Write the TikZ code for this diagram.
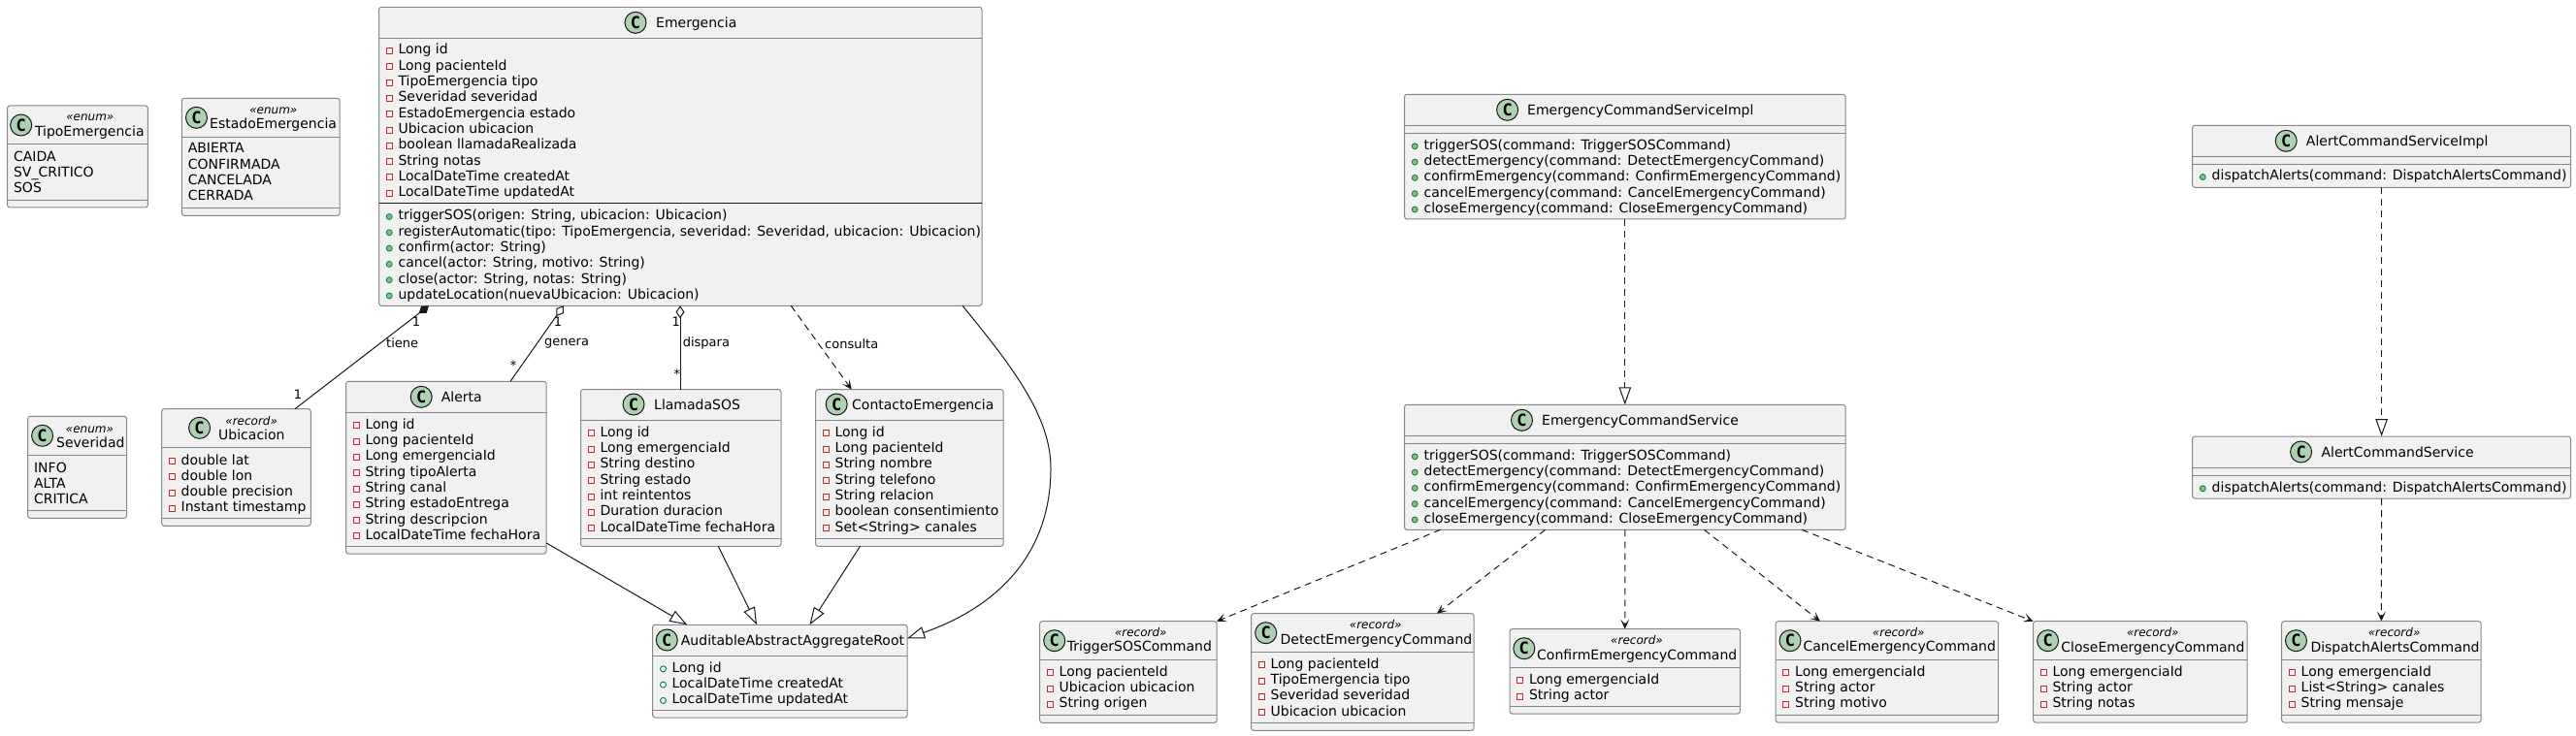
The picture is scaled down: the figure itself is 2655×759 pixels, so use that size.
\documentclass[tikz,border=0pt]{standalone}
\usepackage{fontspec}
\setmainfont{DejaVu Sans}
\newfontfamily\cfont{DejaVu Sans Mono}
\usetikzlibrary{arrows.meta}

\definecolor{boxfill}{HTML}{F1F1F1}
\definecolor{boxline}{HTML}{888888}
\definecolor{linec}{HTML}{181818}
\definecolor{cfill}{HTML}{ADD1B2}
\definecolor{privred}{HTML}{C82930}
\definecolor{pubgreen}{HTML}{038048}
\definecolor{pubfill}{HTML}{84BE84}

\tikzset{
 classbox/.style={draw=boxline, fill=boxfill, line width=1pt, rounded corners=2.5pt, inner sep=0pt, outer sep=0pt, anchor=north west},
 sepline/.style={draw=boxline, line width=1pt},
 blacksep/.style={draw=linec, line width=1.2pt},
 rowtext/.style={anchor=base west, inner sep=0pt, font=\fontsize{14}{16}\selectfont},
 titletext/.style={anchor=base west, inner sep=0pt, font=\fontsize{14}{16}\selectfont},
 stereotext/.style={anchor=base, inner sep=0pt, font=\fontsize{12}{14}\selectfont\itshape},
 ccircle/.style={circle, draw=linec, fill=cfill, line width=1pt, minimum size=22pt, inner sep=0pt, font=\cfont\bfseries\fontsize{17}{17}\selectfont},
 privicon/.style={draw=privred, line width=0.9pt},
 pubicon/.style={draw=pubgreen, fill=pubfill, line width=0.8pt},
 pubfield/.style={draw=pubgreen, line width=0.9pt},
 conn/.style={draw=linec, line width=1pt},
 dashedconn/.style={conn, dash pattern=on 7pt off 5pt},
 inh/.style={-{Triangle[open,length=18pt,width=12.5pt]}},
 dep/.style={-{Stealth[length=10pt,width=9pt,inset=5pt]}},
 comp/.style={{Diamond[length=13pt,width=9pt]}-},
 aggr/.style={{Diamond[open,length=13pt,width=9pt]}-},
 lbl/.style={inner sep=0pt, font=\fontsize{13}{15}\selectfont},
}

% name, x, y, w, h, header line y
\newcommand\umlclass[6]{%
 \node[classbox, minimum width=#4pt, minimum height=#5pt] (#1) at (#2,#3) {};
 \draw[sepline] (#1.west |- 0,#6) -- (#1.east |- 0,#6);}
\newcommand\umlsep[2]{\draw[sepline] (#1.west |- 0,#2) -- (#1.east |- 0,#2);}
% name, circle x, circle y, title left x, title y, text
\newcommand\umltitle[6]{%
 \node[ccircle] (#1c) at (#2,#3) {C};
 \node[titletext] (#1t) at (#4,#5+5) {#6};}
\newcommand\umlstereo[4]{\node[stereotext] (#1s) at (#2,#3+4.3) {«#4»};}
% prefix, box left, first y, list
\newcommand\privrows[4]{%
 \foreach \txt [count=\i from 0] in {#4} {
  \pgfmathsetmacro\yy{#3+16.3*\i}
  \draw[privicon] (#2+7.5,\yy-1.5) rectangle (#2+13.5,\yy+4.5);
  \node[rowtext] (#1\i) at (#2+19.8,\yy+5) {\ignorespaces\txt};
 }}
\newcommand\pubrows[4]{%
 \foreach \txt [count=\i from 0] in {#4} {
  \pgfmathsetmacro\yy{#3+16.3*\i}
  \draw[pubicon] (#2+10.6,\yy+1.5) circle (3pt);
  \node[rowtext] (#1\i) at (#2+19.8,\yy+5) {\ignorespaces\txt};
 }}
\newcommand\pubfieldrows[4]{%
 \foreach \txt [count=\i from 0] in {#4} {
  \pgfmathsetmacro\yy{#3+16.3*\i}
  \draw[pubfield] (#2+10.9,\yy+1.5) circle (3pt);
  \node[rowtext] (#1\i) at (#2+19.8,\yy+5) {\ignorespaces\txt};
 }}
\newcommand\enumrows[4]{%
 \foreach \txt [count=\i from 0] in {#4} {
  \pgfmathsetmacro\yy{#3+16.3*\i}
  \node[rowtext] (#1\i) at (#2+6.3,\yy+5) {\ignorespaces\txt};
 }}

\begin{document}
\begin{tikzpicture}[x=1pt,y=-1pt]
\useasboundingbox (0,0) rectangle (2655,759);

% ---------- enums ----------
\umlclass{tipo}{7.6}{109}{144.8}{105}{149}
\umlsep{tipo}{207}
\umltitle{tipo}{21.7}{129}{35.8}{135.7}{TipoEmergencia}
\umlstereo{tipo}{92.8}{120.7}{enum}
\enumrows{tipof}{7.6}{161.3}{CAIDA,SV\_CRITICO,SOS}

\umlclass{estado}{187.3}{101.3}{162.9}{121}{141.3}
\umlsep{estado}{214.3}
\umltitle{estado}{202.5}{121.3}{216}{128}{EstadoEmergencia}
\umlstereo{estado}{281.8}{113}{enum}
\enumrows{estadof}{187.3}{153}{ABIERTA,CONFIRMADA,CANCELADA,CERRADA}

\umlclass{sev}{28.6}{429.3}{101.9}{105}{469.3}
\umlsep{sev}{526.3}
\umltitle{sev}{43.6}{449.3}{58}{456}{Severidad}
\umlstereo{sev}{92.5}{441.7}{enum}
\enumrows{sevf}{28.6}{482}{INFO,ALTA,CRITICA}

% ---------- Ubicacion ----------
\umlclass{ubi}{166.7}{421.7}{153.6}{120.6}{461.5}
\umlsep{ubi}{534.3}
\umltitle{ubi}{205.6}{441.3}{225}{448}{Ubicacion}
\umlstereo{ubi}{259.2}{433.7}{record}
\privrows{ubif}{166.7}{474}{double lat,double lon,double precision,Instant timestamp}

% ---------- Emergencia ----------
\umlclass{em}{390.6}{7.3}{621.4}{308}{39.3}
\draw[blacksep] (em.west |- 0,209.3) -- (em.east |- 0,209.3);
\umltitle{em}{655}{23.3}{676}{23.3}{Emergencia}
\privrows{emf}{390.6}{51}{Long id,Long pacienteId,TipoEmergencia tipo,Severidad severidad,EstadoEmergencia estado,Ubicacion ubicacion,boolean llamadaRealizada,String notas,LocalDateTime createdAt,LocalDateTime updatedAt}
\pubrows{emm}{390.6}{222}{{triggerSOS(origen: String, ubicacion: Ubicacion)},{registerAutomatic(tipo: TipoEmergencia, severidad: Severidad, ubicacion: Ubicacion)},{confirm(actor: String)},{cancel(actor: String, motivo: String)},{close(actor: String, notas: String)},{updateLocation(nuevaUbicacion: Ubicacion)}}

% ---------- Alerta, LlamadaSOS, ContactoEmergencia ----------
\umlclass{alerta}{356.5}{393.3}{206.7}{177.7}{425.3}
\umlsep{alerta}{563.3}
\umltitle{alerta}{434.2}{409.3}{454.6}{409.3}{Alerta}
\privrows{alertaf}{356.5}{437.3}{Long id,Long pacienteId,Long emergenciaId,String tipoAlerta,String canal,String estadoEntrega,String descripcion,LocalDateTime fechaHora}

\umlclass{llam}{598.5}{401.7}{206.5}{161.6}{433.7}
\umlsep{llam}{555}
\umltitle{llam}{653}{417}{674}{417}{LlamadaSOS}
\privrows{llamf}{598.5}{445.3}{Long id,Long emergenciaId,String destino,String estado,int reintentos,Duration duracion,LocalDateTime fechaHora}

\umlclass{cont}{840.6}{401.7}{193.6}{161.6}{433.7}
\umlsep{cont}{555}
\umltitle{cont}{862.2}{417}{878}{417}{ContactoEmergencia}
\privrows{contf}{840.6}{445.3}{Long id,Long pacienteId,String nombre,String telefono,String relacion,boolean consentimiento,Set<String> canales}

% ---------- AuditableAbstractAggregateRoot ----------
\umlclass{agg}{672.6}{644.3}{262.5}{95.7}{676.3}
\umlsep{agg}{732.3}
\umltitle{agg}{687.3}{660}{701.7}{660}{AuditableAbstractAggregateRoot}
\pubfieldrows{aggf}{672.6}{688.3}{Long id,LocalDateTime createdAt,LocalDateTime updatedAt}

% ---------- services ----------
\umlclass{ecsi}{1447.6}{97.3}{454.4}{128.7}{129.3}
\umlsep{ecsi}{137.3}
\umltitle{ecsi}{1553.6}{113.3}{1574}{113.3}{EmergencyCommandServiceImpl}
\pubrows{ecsim}{1447.6}{149.3}{{triggerSOS(command: TriggerSOSCommand)},{detectEmergency(command: DetectEmergencyCommand)},{confirmEmergency(command: ConfirmEmergencyCommand)},{cancelEmergency(command: CancelEmergencyCommand)},{closeEmergency(command: CloseEmergencyCommand)}}

\umlclass{ecs}{1447.6}{417.3}{454.4}{129}{449.3}
\umlsep{ecs}{457.3}
\umltitle{ecs}{1568.5}{433.3}{1589}{433.3}{EmergencyCommandService}
\pubrows{ecsm}{1447.6}{469.3}{{triggerSOS(command: TriggerSOSCommand)},{detectEmergency(command: DetectEmergencyCommand)},{confirmEmergency(command: ConfirmEmergencyCommand)},{cancelEmergency(command: CancelEmergencyCommand)},{closeEmergency(command: CloseEmergencyCommand)}}

\umlclass{acsi}{2259.7}{129.3}{389.8}{64}{161.3}
\umlsep{acsi}{169.3}
\umltitle{acsi}{2356.2}{145.3}{2376.7}{145.3}{AlertCommandServiceImpl}
\pubrows{acsim}{2259.7}{181}{{dispatchAlerts(command: DispatchAlertsCommand)}}

\umlclass{acs}{2259.7}{450}{389.8}{64}{482.3}
\umlsep{acs}{490.3}
\umltitle{acs}{2371.6}{466}{2392.4}{466}{AlertCommandService}
\pubrows{acsm}{2259.7}{502.3}{{dispatchAlerts(command: DispatchAlertsCommand)}}

% ---------- command records ----------
\umlclass{trig}{1071.7}{640.7}{182.3}{104.6}{680.7}
\umlsep{trig}{737.3}
\umltitle{trig}{1086.7}{660.7}{1099.7}{666}{TriggerSOSCommand}
\umlstereo{trig}{1175.8}{651.7}{record}
\privrows{trigf}{1071.7}{692.3}{Long pacienteId,Ubicacion ubicacion,String origen}

\umlclass{det}{1289.6}{632.7}{229.4}{120.6}{672.7}
\umlsep{det}{745.3}
\umltitle{det}{1304.7}{652.7}{1319.5}{659.3}{DetectEmergencyCommand}
\umlstereo{det}{1417.7}{644}{record}
\privrows{detf}{1289.6}{684.3}{Long pacienteId,TipoEmergencia tipo,Severidad severidad,Ubicacion ubicacion}

\umlclass{conf}{1556}{648.7}{237.5}{87.3}{688.7}
\umlsep{conf}{728.3}
\umltitle{conf}{1570.8}{668.7}{1584}{675.7}{ConfirmEmergencyCommand}
\umlstereo{conf}{1687}{660}{record}
\privrows{conff}{1556}{700.3}{Long emergenciaId,String actor}

\umlclass{canc}{1830.2}{640.7}{229.3}{104.3}{680.7}
\umlsep{canc}{737.3}
\umltitle{canc}{1845}{660.7}{1858.3}{666.7}{CancelEmergencyCommand}
\umlstereo{canc}{1956.7}{651.7}{record}
\privrows{cancf}{1830.2}{692.3}{Long emergenciaId,String actor,String motivo}

\umlclass{clos}{2095.5}{640.7}{220.6}{104.3}{680.7}
\umlsep{clos}{737.3}
\umltitle{clos}{2110.6}{660.7}{2124.2}{667.3}{CloseEmergencyCommand}
\umlstereo{clos}{2218.8}{651.7}{record}
\privrows{closf}{2095.5}{692.3}{Long emergenciaId,String actor,String notas}

\umlclass{disp}{2351.7}{640.7}{205.3}{104.3}{680.7}
\umlsep{disp}{737.3}
\umltitle{disp}{2366.5}{660.7}{2381.3}{667.3}{DispatchAlertsCommand}
\umlstereo{disp}{2467.6}{651.7}{record}
\privrows{dispf}{2351.7}{692.3}{Long emergenciaId,List<String> canales,String mensaje}

% ---------- connectors: Emergencia ----------
\draw[conn, comp] (em.south -| 442,0) -- (ubi.north -| 304,0);
\node[lbl] (tieneA) at (429,332) {1};
\node[lbl, anchor=west] (tieneL) at (398,354) {tiene};
\node[lbl] (tieneB) at (307,406.3) {1};

\draw[conn, aggr] (em.south -| 580.8,0) -- (alerta.north -| 526,0);
\node[lbl] (generaA) at (575,331.7) {1};
\node[lbl, anchor=west] (generaL) at (561,354.3) {genera};
\node[lbl] (generaB) at (529,377) {*};

\draw[conn, aggr] (em.south -| 701,0) -- (llam.north -| 701,0);
\node[lbl] (disparaA) at (696.7,331.7) {1};
\node[lbl, anchor=west] (disparaL) at (703.6,354.3) {dispara};
\node[lbl] (disparaB) at (697.8,385.3) {*};

\draw[dashedconn, dep] (em.south -| 815.3,0) -- (cont.north -| 877.7,0);
\node[lbl, anchor=west] (consultaL) at (850,354.3) {consulta};

% ---------- inheritance to AuditableAbstractAggregateRoot ----------
\draw[conn, inh] (alerta.east |- 0,560) -- (agg.north -| 708.2,0);
\draw[conn, inh] (llam.south -| 740.3,0) -- (agg.north -| 780.1,0);
\draw[conn, inh] (cont.south -| 886.5,0) -- (agg.north -| 834.5,0);
\draw[conn, inh] (em.south -| 992,0) .. controls (1045,380) and (1083,430) .. (1083,483)
  .. controls (1083,570) and (1030,625) .. (agg.east |- 0,658.3);

% ---------- services ----------
\draw[dashedconn, inh] (ecsi.south) -- (ecs.north);
\draw[dashedconn, inh] (acsi.south) -- (acs.north);
\draw[dashedconn, dep] (acs.south) -- (disp.north);

\draw[dashedconn, dep] (ecs.south -| 1484.6,0) -- (trig.north east);
\draw[dashedconn, dep] (ecs.south -| 1592.7,0) -- (det.north -| 1481,0);
\draw[dashedconn, dep] (ecs.south) -- (conf.north);
\draw[dashedconn, dep] (ecs.south -| 1756.5,0) -- (canc.north -| 1876,0);
\draw[dashedconn, dep] (ecs.south -| 1857,0) -- (clos.north west);

\end{tikzpicture}
\end{document}
